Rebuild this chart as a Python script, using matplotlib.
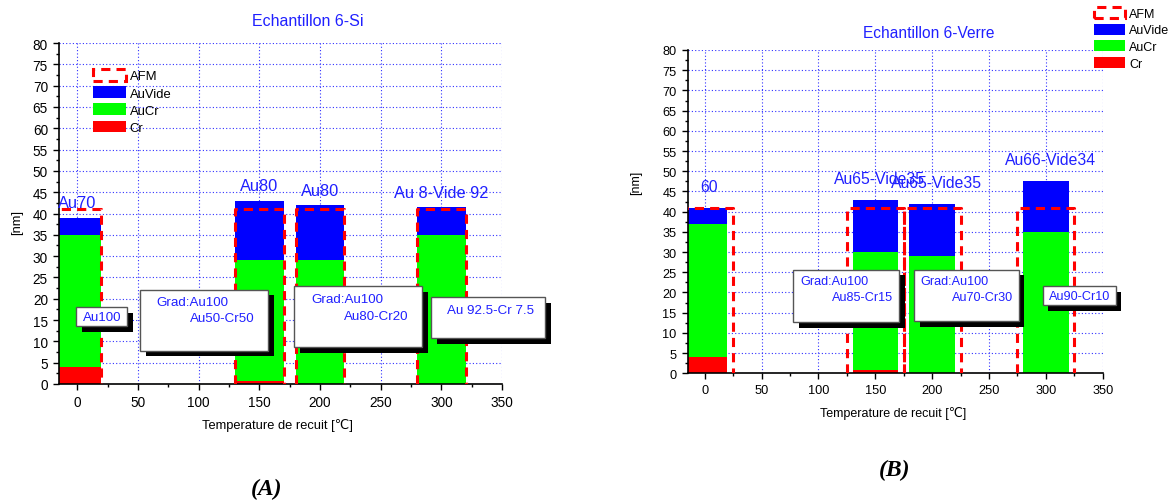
import matplotlib
matplotlib.use("Agg")
import matplotlib.pyplot as plt
from matplotlib.patches import Rectangle, Patch
from matplotlib.ticker import MultipleLocator
from matplotlib.transforms import ScaledTranslation

plt.rcParams["font.family"] = ["Liberation Sans", "DejaVu Sans"]

# -------------------------------------------------
# Data (thickness of each layer, nm)
# -------------------------------------------------
temps = [0, 150, 200, 300]

si_cr = [4, 0.8, 0, 0]
si_aucr = [31, 28.2, 29, 35]
si_auvide = [4, 14, 13, 6.5]
si_afm = [41, 41, 41, 41]
si_labels = ["Au70", "Au80", "Au80", "Au 8-Vide 92"]

verre_cr = [4, 0.8, 0, 0]
verre_aucr = [33, 29.2, 29, 35]
verre_auvide = [4, 13, 13, 12.5]
verre_afm = [41, 41, 41, 41]
verre_labels = ["60", "Au65-Vide35", "Au65-Vide35", "Au66-Vide34"]

# annotation boxes: (x0, y0, x1, y1, [(x, y, text), ...])
si_boxes = [
    (-0.8, 13.5, 41.2, 18.0, [(4.6, 15.8, "Au100")]),
    (51.9, 7.8, 157.6, 22.1, [(65.6, 19.3, "Grad:Au100"), (93.3, 15.4, "Au50-Cr50")]),
    (178.7, 8.6, 284.2, 22.9, [(192.7, 19.9, "Grad:Au100"), (220.2, 15.9, "Au80-Cr20")]),
    (291.6, 10.8, 385.8, 20.3, [(304.5, 17.4, "Au 92.5-Cr 7.5")]),
]
verre_boxes = [
    (77.9, 12.6, 171.2, 25.6, [(84.3, 22.9, "Grad:Au100"), (112.1, 19.0, "Au85-Cr15")]),
    (184.4, 12.9, 276.0, 25.6, [(189.6, 22.9, "Grad:Au100"), (217.5, 19.0, "Au70-Cr30")]),
    (297.4, 16.9, 361.5, 21.5, [(302.9, 19.2, "Au90-Cr10")]),
]

BLUE = "#0000FF"
GREEN = "#00FF00"
RED = "#FF0000"
TXT = "#2020FF"


def draw_panel(fig, ax, cr, aucr, auvide, afm, labels, boxes, afm_half,
               lab_dx, lab_dy, title, title_xy, fs, legend_xy, xlab_xy, ylab_xy):
    base2 = [a + b for a, b in zip(cr, aucr)]
    ax.bar(temps, cr, width=40, color=RED, zorder=2)
    ax.bar(temps, aucr, width=40, bottom=cr, color=GREEN, zorder=2)
    ax.bar(temps, auvide, width=40, bottom=base2, color=BLUE, zorder=2)

    # AFM thickness outline
    for t, h in zip(temps, afm):
        ax.plot([t - afm_half, t - afm_half, t + afm_half, t + afm_half],
                [0, h, h, 0], color=RED, lw=2.2, ls=(0, (3, 2)), zorder=3)

    # labels above the bars
    for t, b, v, lab in zip(temps, base2, auvide, labels):
        ax.text(t + lab_dx, b + v + lab_dy, lab, color=TXT, fontsize=fs["bar"],
                ha="center", va="center", zorder=6)

    # annotation boxes with drop shadow
    shadow = ax.transData + ScaledTranslation(4 / 72, -4 / 72, fig.dpi_scale_trans)
    for x0, y0, x1, y1, lines in boxes:
        ax.add_patch(Rectangle((x0, y0), x1 - x0, y1 - y0, facecolor="black",
                               edgecolor="none", transform=shadow, zorder=4, clip_on=False))
        ax.add_patch(Rectangle((x0, y0), x1 - x0, y1 - y0, facecolor="white",
                               edgecolor="#555555", lw=1, zorder=5, clip_on=False))
        for tx, ty, s in lines:
            ax.text(tx, ty, s, color=TXT, fontsize=fs["box"], ha="left",
                    va="center", zorder=6, clip_on=False)

    ax.set_xlim(-15, 350)
    ax.set_ylim(0, 80)
    ax.xaxis.set_major_locator(MultipleLocator(50))
    ax.xaxis.set_minor_locator(MultipleLocator(25))
    ax.yaxis.set_major_locator(MultipleLocator(5))
    ax.yaxis.set_minor_locator(MultipleLocator(2.5))
    ax.tick_params(which="major", length=4, width=1, labelsize=fs["tick"], pad=4)
    ax.tick_params(which="minor", length=2.5, width=1)

    ax.grid(True, which="major", color="#3030FF", ls=(0, (1, 2)), lw=0.8, zorder=1)
    ax.set_axisbelow(True)
    ax.xaxis.get_gridlines()[-1].set_visible(False)
    ax.yaxis.get_gridlines()[-1].set_visible(False)

    for side in ["top", "right"]:
        ax.spines[side].set_visible(False)
    for side in ["left", "bottom"]:
        ax.spines[side].set_linewidth(1.2)

    ax.text(title_xy[0], title_xy[1], title, color=TXT, fontsize=fs["title"],
            ha="center", va="center", transform=ax.transAxes)

    ax.set_xlabel("Temperature de recuit [\u2103]", fontsize=fs["label"])
    ax.xaxis.set_label_coords(*xlab_xy)
    ax.xaxis.label.set_va("center")
    ax.set_ylabel("[nm]", fontsize=fs["label"])
    ax.yaxis.set_label_coords(*ylab_xy)
    ax.yaxis.label.set_va("center")

    handles = [
        Patch(facecolor="none", edgecolor=RED, lw=2.2, ls=(0, (3, 2))),
        Patch(facecolor=BLUE, edgecolor="none"),
        Patch(facecolor=GREEN, edgecolor="none"),
        Patch(facecolor=RED, edgecolor="none"),
    ]
    ax.legend(handles, ["AFM", "AuVide", "AuCr", "Cr"], loc="upper left",
              bbox_to_anchor=legend_xy, bbox_transform=fig.transFigure,
              frameon=False, fontsize=fs["legend"], handlelength=2.5,
              handleheight=1.0, labelspacing=0.3, handletextpad=0.3,
              borderpad=0, borderaxespad=0)


def main():
    fig = plt.figure(figsize=(11.75, 5.02), dpi=100)
    ax_si = fig.add_axes([59 / 1175, 117 / 502, 443 / 1175, 341 / 502])
    ax_verre = fig.add_axes([687.7 / 1175, 127.7 / 502, 415 / 1175, 323.3 / 502])

    fs_si = {"bar": 11.8, "box": 9.6, "tick": 9.8, "title": 11.5, "label": 9.3, "legend": 9.4}
    fs_verre = {"bar": 11.3, "box": 9.1, "tick": 9.2, "title": 11.2, "label": 9, "legend": 9}

    draw_panel(fig, ax_si, si_cr, si_aucr, si_auvide, si_afm, si_labels, si_boxes,
               20, 0, 3.5, "Echantillon 6-Si", (0.562, 1.065), fs_si,
               (93 / 1175, 1 - 70 / 502), (0.494, -0.12), (-0.095, 0.478))
    draw_panel(fig, ax_verre, verre_cr, verre_aucr, verre_auvide, verre_afm, verre_labels,
               verre_boxes, 25, 4, 5.3, "Echantillon 6-Verre", (0.581, 1.055), fs_verre,
               (1094 / 1175, 1 - 8 / 502), (0.495, -0.121), (-0.125, 0.593))

    fig.text(267 / 1175, 1 - 489 / 502, "(A)", fontsize=17, fontweight="bold",
             fontstyle="italic", family="Liberation Serif", ha="center", va="center")
    fig.text(895 / 1175, 1 - 470 / 502, "(B)", fontsize=17, fontweight="bold",
             fontstyle="italic", family="Liberation Serif", ha="center", va="center")

    fig.savefig("out.png", dpi=100)
    plt.close(fig)


if __name__ == "__main__":
    main()
